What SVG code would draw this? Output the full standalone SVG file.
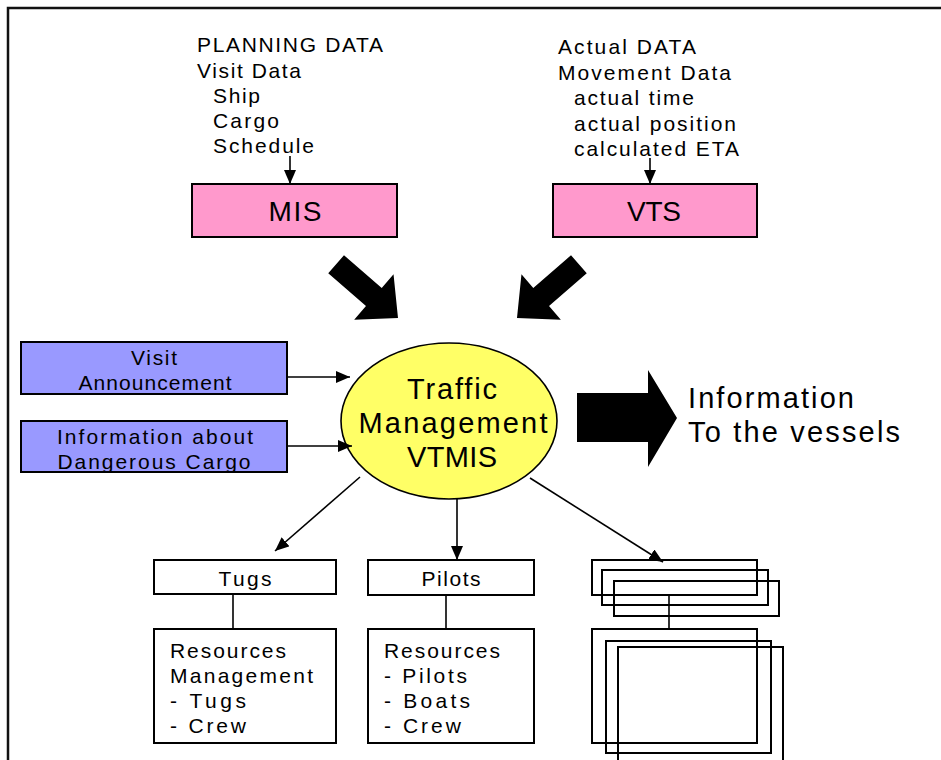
<svg xmlns="http://www.w3.org/2000/svg" width="941" height="760" viewBox="0 0 941 760">
  <style>
    text { font-family: "Liberation Sans", Arial, sans-serif; fill: #000; }
    .s { font-size: 21px; }
    .m { font-size: 28px; }
    .l { font-size: 29px; }
    .box { stroke: #000; stroke-width: 2; }
    .pink { fill: #FF99CC; }
    .blue { fill: #9999FF; }
    .white { fill: #fff; }
    .open { fill: none; stroke: #000; stroke-width: 2; }
    .conn { stroke: #000; stroke-width: 1.6; fill: none; }
    .plain { stroke: #000; stroke-width: 1.6; fill: none; }
    .mid { text-anchor: middle; }
  </style>
  <defs>
    <marker id="arrow" viewBox="0 0 14 12" refX="14" refY="6" markerWidth="14" markerHeight="12" markerUnits="userSpaceOnUse" orient="auto">
      <path d="M0,0 L14,6 L0,12 Z" fill="#000"/>
    </marker>
    <polygon id="fat" points="0,-12 50,-12 50,-30 82,0 50,30 50,12 0,12" fill="#000"/>
  </defs>

  <!-- page frame -->
  <path d="M8,760 V8 H941" fill="none" stroke="#111" stroke-width="2.5"/>

  <!-- planning data source -->
  <g id="planning-data">
    <text class="s" x="197" y="52" textLength="186" lengthAdjust="spacing">PLANNING DATA</text>
    <text class="s" x="197" y="78" textLength="104" lengthAdjust="spacing">Visit Data</text>
    <text class="s" x="213" y="103" textLength="47" lengthAdjust="spacing">Ship</text>
    <text class="s" x="213" y="128" textLength="66" lengthAdjust="spacing">Cargo</text>
    <text class="s" x="213" y="153" textLength="101" lengthAdjust="spacing">Schedule</text>
  </g>

  <!-- actual data source -->
  <g id="actual-data">
    <text class="s" x="558" y="54" textLength="138" lengthAdjust="spacing">Actual DATA</text>
    <text class="s" x="558" y="80" textLength="173" lengthAdjust="spacing">Movement Data</text>
    <text class="s" x="574" y="105" textLength="120" lengthAdjust="spacing">actual time</text>
    <text class="s" x="574" y="131" textLength="162" lengthAdjust="spacing">actual position</text>
    <text class="s" x="574" y="156" textLength="165" lengthAdjust="spacing">calculated ETA</text>
  </g>

  <g id="mis">
    <rect class="box pink" x="192" y="184" width="205" height="53"/>
    <text class="m mid" x="295" y="221" textLength="53" lengthAdjust="spacing">MIS</text>
  </g>

  <g id="vts">
    <rect class="box pink" x="553" y="184" width="204" height="53"/>
    <text class="m mid" x="654" y="221" textLength="54" lengthAdjust="spacing">VTS</text>
  </g>

  <g id="visit-announcement">
    <rect class="box blue" x="21" y="342" width="266" height="52"/>
    <text class="s mid" x="154" y="365" textLength="46" lengthAdjust="spacing">Visit</text>
    <text class="s mid" x="155" y="390" textLength="153" lengthAdjust="spacing">Announcement</text>
  </g>

  <g id="dangerous-cargo">
    <rect class="box blue" x="21" y="421" width="266" height="51"/>
    <text class="s mid" x="155" y="444" textLength="196" lengthAdjust="spacing">Information about</text>
    <text class="s mid" x="154" y="469" textLength="193" lengthAdjust="spacing">Dangerous Cargo</text>
  </g>

  <g id="vtmis">
    <ellipse cx="449" cy="421" rx="108" ry="78" fill="#FFFF66" stroke="#000" stroke-width="1.6"/>
    <text class="l mid" x="452" y="399" textLength="90" lengthAdjust="spacing">Traffic</text>
    <text class="l mid" x="453" y="433" textLength="189" lengthAdjust="spacing">Management</text>
    <text class="l mid" x="452" y="467" textLength="90" lengthAdjust="spacing">VTMIS</text>
  </g>

  <g id="vessels-info">
    <text class="l" x="688" y="408" textLength="166" lengthAdjust="spacing">Information</text>
    <text class="l" x="688" y="442" textLength="212" lengthAdjust="spacing">To the vessels</text>
  </g>

  <g id="tugs">
    <rect class="box white" x="154" y="560" width="182" height="34"/>
    <text class="s mid" x="245" y="586" textLength="53" lengthAdjust="spacing">Tugs</text>
  </g>

  <g id="tugs-resources">
    <rect class="box white" x="154" y="629" width="182" height="114"/>
    <text class="s" x="170" y="658" textLength="116" lengthAdjust="spacing">Resources</text>
    <text class="s" x="170" y="683" textLength="143" lengthAdjust="spacing">Management</text>
    <text class="s" x="170" y="708" textLength="76" lengthAdjust="spacing">- Tugs</text>
    <text class="s" x="170" y="733" textLength="76" lengthAdjust="spacing">- Crew</text>
  </g>

  <g id="pilots">
    <rect class="box white" x="368" y="560" width="166" height="35"/>
    <text class="s mid" x="451" y="586" textLength="59" lengthAdjust="spacing">Pilots</text>
  </g>

  <g id="pilots-resources">
    <rect class="box white" x="368" y="629" width="166" height="114"/>
    <text class="s" x="384" y="658" textLength="116" lengthAdjust="spacing">Resources</text>
    <text class="s" x="384" y="683" textLength="83" lengthAdjust="spacing">- Pilots</text>
    <text class="s" x="384" y="708" textLength="86" lengthAdjust="spacing">- Boats</text>
    <text class="s" x="384" y="733" textLength="77" lengthAdjust="spacing">- Crew</text>
  </g>

  <g id="other-services">
    <rect class="open" x="592" y="560" width="165" height="35"/>
    <rect class="open" x="602" y="570" width="166" height="35"/>
    <rect class="open" x="614" y="581" width="165" height="35"/>
  </g>

  <g id="other-resources">
    <rect class="open" x="592" y="629" width="165" height="114"/>
    <rect class="open" x="606" y="641" width="165" height="112"/>
    <rect class="open" x="618" y="647" width="165" height="120"/>
  </g>

  <g id="connectors">
    <line class="conn" x1="290" y1="156" x2="290" y2="184" marker-end="url(#arrow)"/>
    <line class="conn" x1="650" y1="158" x2="650" y2="184" marker-end="url(#arrow)"/>
    <line class="conn" x1="287" y1="377" x2="350" y2="377" marker-end="url(#arrow)"/>
    <line class="conn" x1="287" y1="446" x2="352" y2="446" marker-end="url(#arrow)"/>
    <line class="conn" x1="360" y1="477" x2="275" y2="551" marker-end="url(#arrow)"/>
    <line class="conn" x1="457" y1="499" x2="457" y2="560" marker-end="url(#arrow)"/>
    <line class="conn" x1="530" y1="478" x2="663" y2="562" marker-end="url(#arrow)"/>
    <line class="plain" x1="233" y1="594" x2="233" y2="629"/>
    <line class="plain" x1="446" y1="595" x2="446" y2="629"/>
    <line class="plain" x1="669" y1="595" x2="669" y2="629"/>
    <!-- fat block arrows -->
    <use href="#fat" transform="translate(398,318) rotate(41) translate(-82,0)"/>
    <use href="#fat" transform="translate(517,318) rotate(139) translate(-82,0)"/>
    <polygon points="577,393 648,393 648,370 677,418 648,467 648,442 577,442" fill="#000"/>
  </g>
</svg>
